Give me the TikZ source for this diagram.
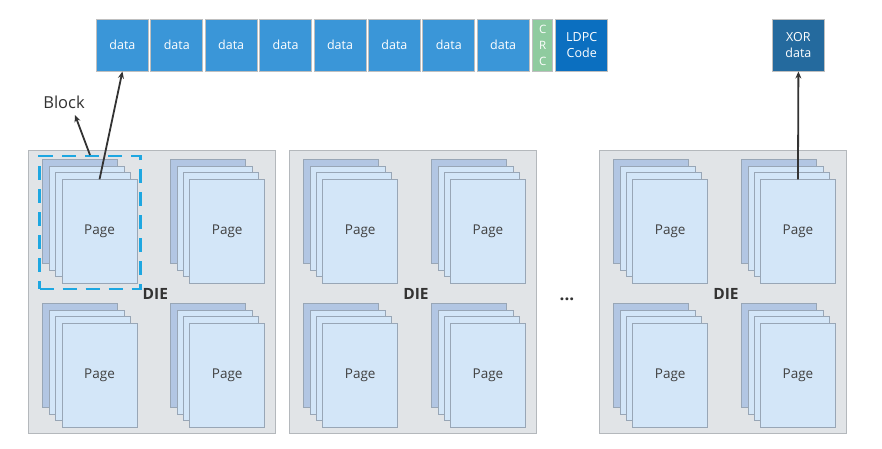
\documentclass[tikz,border=0pt]{standalone}
\usepackage{fontspec}
\setmainfont{Open Sans}
\usetikzlibrary{arrows.meta}
\definecolor{dataC}{HTML}{3A96D8}
\definecolor{crcC}{HTML}{8FCB9F}
\definecolor{ldpcC}{HTML}{0B6FC0}
\definecolor{xorC}{HTML}{246A9E}
\definecolor{dieC}{HTML}{E1E4E7}
\definecolor{dieB}{HTML}{B4B8BC}
\definecolor{sheetF}{HTML}{D3E6F8}
\definecolor{sheetBk}{HTML}{B2C6E3}
\definecolor{sheetB}{HTML}{98A6B6}
\definecolor{blkC}{HTML}{1EA7E1}
\definecolor{arrC}{HTML}{333333}
\begin{document}
\begin{tikzpicture}[x=1pt,y=-1pt,
  topbox/.style={draw=black!25, line width=0.8pt, minimum width=52pt, minimum height=52pt,
    anchor=north west, inner sep=0pt, text=white, align=center,
    font=\fontsize{12.5}{16}\selectfont},
  diebox/.style={draw=dieB, line width=0.8pt, fill=dieC, minimum width=247pt, minimum height=283pt,
    anchor=north west, inner sep=0pt},
  sheet/.style={draw=sheetB, line width=0.7pt, fill=sheetF, minimum width=75pt, minimum height=104pt,
    anchor=north west, inner sep=0pt},
  backsheet/.style={sheet, fill=sheetBk},
  pagetext/.style={text=black!75, font=\fontsize{13.5}{15}\selectfont},
  dielabel/.style={text=black!80, font=\bfseries\fontsize{15.5}{17}\selectfont},
  arr/.style={draw=arrC, line width=1.8pt, -{Stealth[length=7pt,width=6pt]}},
  blockbox/.style={draw=blkC, line width=2.4pt, dash pattern=on 14pt off 9pt, minimum width=101pt,
    minimum height=133pt, anchor=north west, inner sep=0pt}
]
\useasboundingbox (0,0) rectangle (882,448);
% top row
\foreach \i in {1,...,8}{
  \node[topbox, fill=dataC] (d\i) at ({96+(\i-1)*54.4},18.7) {data};
}
\node[topbox, fill=crcC, minimum width=20pt, font=\fontsize{11.5}{16}\selectfont] (crc) at (532.3,18.7) {C\\R\\C};
\node[topbox, fill=ldpcC] (ldpc) at (555.3,18.7) {LDPC\\Code};
\node[topbox, fill=xorC] (xor) at (772,18.7) {XOR\\data};
% dies
\foreach \dx [count=\i] in {28.3,289,599}{
  \node[diebox] (die\i) at (\dx,150) {};
  \node[dielabel] (dl\i) at ({\dx+127},294) {DIE};
  \foreach \r in {0,1}{
    \foreach \c in {0,1}{
      \node[backsheet] (s\i\r\c a) at ({\dx+14+\c*127.7},{159.3+\r*144}) {};
      \node[sheet] (s\i\r\c b) at ({\dx+14+\c*127.7+6.8},{159.3+\r*144+6.6}) {};
      \node[sheet] (s\i\r\c c) at ({\dx+14+\c*127.7+13},{159.3+\r*144+13}) {};
      \node[sheet, pagetext] (p\i\r\c) at ({\dx+14+\c*127.7+19.4},{159.3+\r*144+20}) {Page};
    }
  }
}
\node[font=\bfseries\fontsize{17}{18}\selectfont, text=black!80] (dots) at (567,299) {...};
% block
\node[blockbox] (blk) at (38.3,155) {};
\node[text=arrC, font=\fontsize{16.5}{18}\selectfont, anchor=center] (blabel) at (64,102) {Block};
\coordinate (btip) at (75,115);
\draw[arr] (blk.north) -- (btip);
\draw[arr] (p100.north) -- (d1.south);
\draw[arr] (p301.north) -- (xor.south);
\end{tikzpicture}
\end{document}
